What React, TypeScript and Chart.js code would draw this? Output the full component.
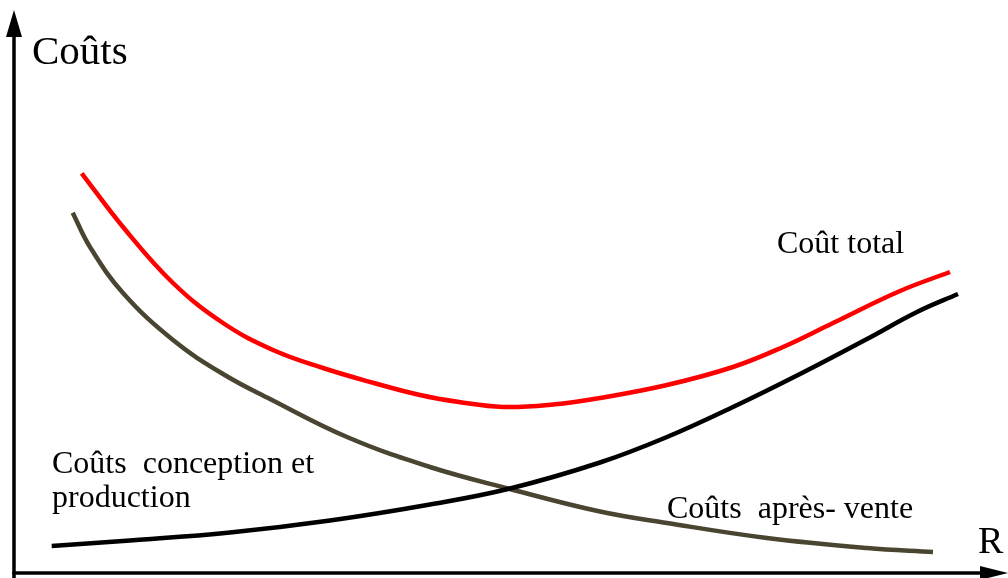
import React, { useEffect, useRef } from "react";
import { Chart, registerables } from "chart.js";

Chart.register(...registerables);

// Values in chart units (R along x, cost along y)
const totalR = [6.77, 10.9, 15.9, 20.9, 25.9, 30.9, 36.0, 40.6, 44.5, 48.9, 53.9, 58.6, 65.3, 71.9, 76.9, 81.9, 88.6, 93.6];
const totalCost = [39.97, 34.6, 29.0, 25.0, 22.3, 20.5, 19.0, 17.8, 17.1, 16.6, 16.85, 17.5, 18.8, 20.6, 22.6, 25.0, 28.2, 30.1];

const conceptionR = [5.87, 7.6, 10.9, 15.9, 20.9, 25.6, 33.3, 41.6, 49.6, 58.6, 65.3, 75.3, 85.3, 91.9];
const conceptionCost = [36.03, 32.6, 28.0, 23.3, 19.9, 17.4, 13.6, 10.6, 8.4, 6.15, 5.0, 3.5, 2.5, 2.1];

const apresVenteR = [3.77, 11.6, 21.6, 31.6, 41.6, 49.6, 58.6, 65.3, 71.9, 78.6, 85.3, 90.3, 94.4];
const apresVenteCost = [2.7, 3.25, 4.05, 5.25, 6.85, 8.45, 11.05, 13.6, 16.6, 19.9, 23.4, 26.1, 27.9];

const X_MIN = -1.4;
const X_MAX = 99.4;
const Y_MIN = -0.5;
const Y_MAX = 57.3;

const yAxisLabel = "Coûts";
const xAxisLabel = "R";
const labelTotal = "Coût total";
const labelConception = ["Coûts  conception et", "production"];
const labelApres = "Coûts  après- vente";

const toPoints = (xs: number[], ys: number[]) => xs.map((x, i) => ({ x, y: ys[i] }));

const decorPlugin = {
  id: "decor",
  afterDatasetsDraw(chart: any) {
    const ctx = chart.ctx;
    const xs = chart.scales.x;
    const ys = chart.scales.y;
    const px = (v: number) => xs.getPixelForValue(v);
    const py = (v: number) => ys.getPixelForValue(v);
    ctx.save();
    ctx.strokeStyle = "#000";
    ctx.fillStyle = "#000";
    ctx.lineWidth = 3.5;
    // y axis
    ctx.beginPath();
    ctx.moveTo(px(0), py(Y_MIN));
    ctx.lineTo(px(0), py(53.8));
    ctx.stroke();
    ctx.beginPath();
    ctx.moveTo(px(0), py(56.3));
    ctx.lineTo(px(0) - 8, py(53.6));
    ctx.lineTo(px(0) + 8, py(53.6));
    ctx.closePath();
    ctx.fill();
    // x axis
    ctx.beginPath();
    ctx.moveTo(px(0) - 1.75, py(0));
    ctx.lineTo(px(96.8), py(0));
    ctx.stroke();
    ctx.beginPath();
    ctx.moveTo(px(99.4), py(0));
    ctx.lineTo(px(96.6), py(0) - 7);
    ctx.lineTo(px(96.6), py(0) + 7);
    ctx.closePath();
    ctx.fill();

    ctx.textAlign = "left";
    ctx.textBaseline = "alphabetic";
    ctx.font = '41px "Liberation Serif", "Times New Roman", serif';
    ctx.fillText(yAxisLabel, px(1.8), py(50.9));
    ctx.font = '38px "Liberation Serif", "Times New Roman", serif';
    ctx.fillText(xAxisLabel, px(96.4), py(2.0));
    ctx.font = '32px "Liberation Serif", "Times New Roman", serif';
    ctx.fillText(labelTotal, px(76.3), py(32.0));
    ctx.fillText(labelApres, px(65.3), py(5.5));
    ctx.fillText(labelConception[0], px(3.8), py(10.0));
    ctx.fillText(labelConception[1], px(3.8), py(6.6));
    ctx.restore();
  },
};

export default function App() {
  const ref = useRef<HTMLCanvasElement | null>(null);
  useEffect(() => {
    if (!ref.current) return;
    const common = {
      showLine: true,
      fill: false,
      pointRadius: 0,
      borderWidth: 4.5,
      tension: 0.4,
      borderCapStyle: "butt" as const,
    };
    const chart = new Chart(ref.current, {
      type: "scatter",
      data: {
        datasets: [
          { ...common, label: "Coût total", data: toPoints(totalR, totalCost), borderColor: "#ff0000" },
          { ...common, label: "Coûts conception et production", data: toPoints(apresVenteR, apresVenteCost), borderColor: "#000000" },
          { ...common, label: "Coûts après-vente", data: toPoints(conceptionR, conceptionCost), borderColor: "#4a4530" },
        ],
      },
      options: {
        animation: false,
        responsive: false,
        layout: { padding: 0 },
        plugins: { legend: { display: false }, tooltip: { enabled: false }, title: { display: false } },
        scales: {
          x: { type: "linear", min: X_MIN, max: X_MAX, display: false },
          y: { type: "linear", min: Y_MIN, max: Y_MAX, display: false },
        },
      },
      plugins: [decorPlugin],
    });
    return () => chart.destroy();
  }, []);
  return (
    <div style={{ position: "absolute", left: 0, top: 0, width: 1008, height: 578, background: "#fff" }}>
      <canvas ref={ref} width={1008} height={578} style={{ display: "block" }} />
    </div>
  );
}
